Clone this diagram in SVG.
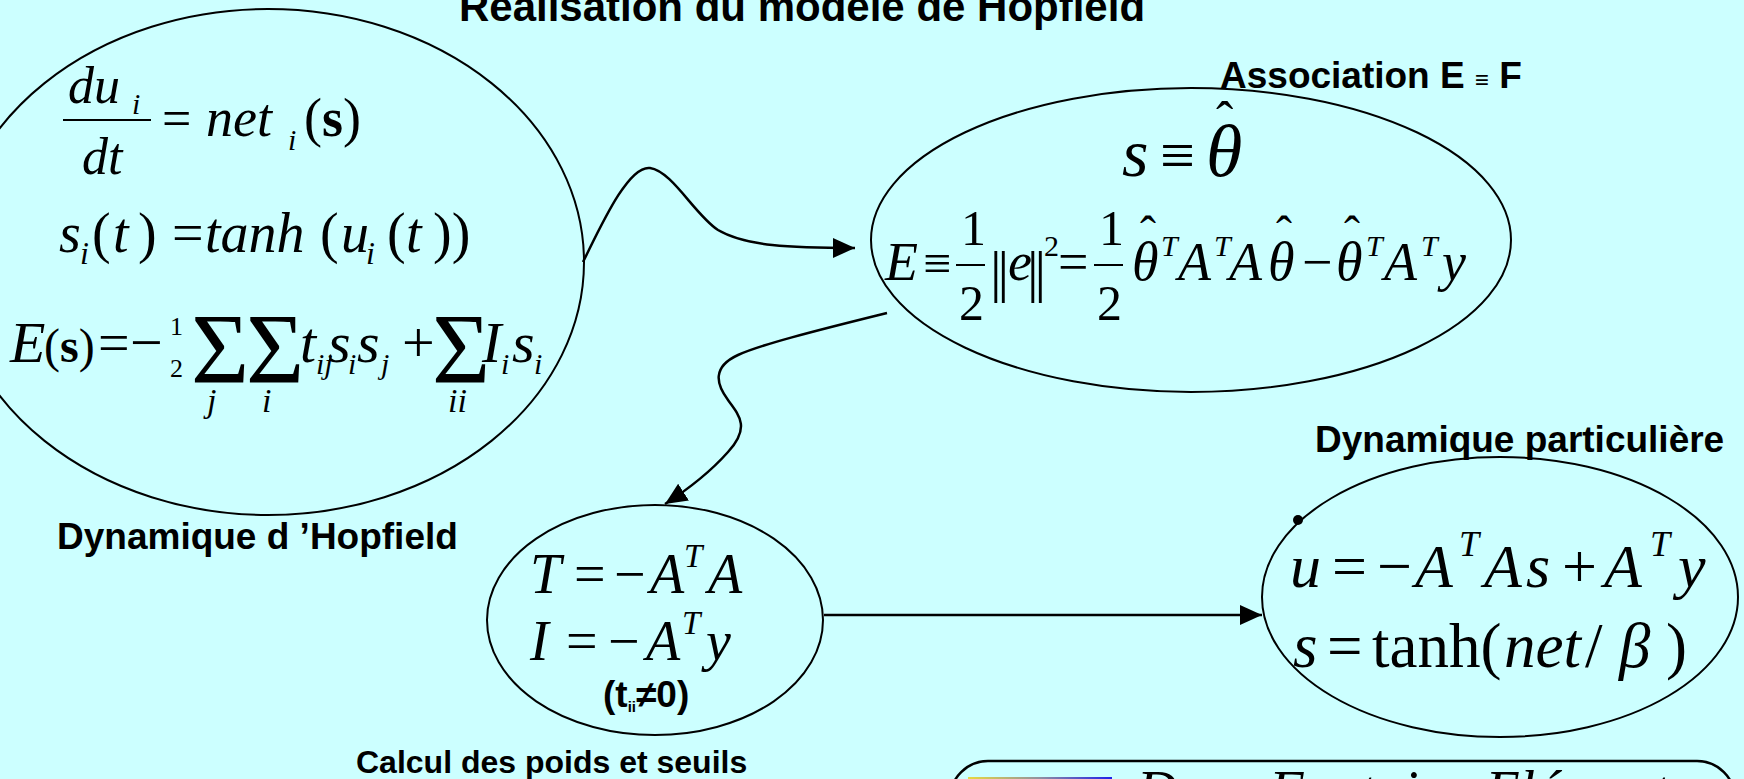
<svg xmlns="http://www.w3.org/2000/svg" width="1744" height="779" viewBox="0 0 1744 779">
<defs>
<style>
.lbl{font-family:"Liberation Sans",Arial,sans-serif;font-weight:bold;fill:#000}
.m{font-family:"Liberation Serif","Times New Roman",serif;font-style:italic;fill:#000}
.u{font-family:"Liberation Serif","Times New Roman",serif;font-style:normal;fill:#000}
.node{fill:none;stroke:#000;stroke-width:2}
.conn{fill:none;stroke:#000;stroke-width:2.5}
</style>
<marker id="ah" markerUnits="userSpaceOnUse" markerWidth="24" markerHeight="22" refX="22" refY="10" orient="auto">
<path d="M0,0 L22,10 L0,20 Z" fill="#000"/>
</marker>
<linearGradient id="bar" x1="0" y1="0" x2="1" y2="0">
<stop offset="0" stop-color="#e8d840"/>
<stop offset="0.5" stop-color="#9090a0"/>
<stop offset="1" stop-color="#2020e8"/>
</linearGradient>
</defs>
<rect x="0" y="0" width="1744" height="779" fill="#CCFFFF"/>

<text class="lbl" x="802" y="21" text-anchor="middle" font-size="42">Réalisation du modèle de Hopfield</text>

<g id="connectors">
<path class="conn" d="M583,262 C600,228 628,165 650,168 C672,171 695,215 718,230 C745,246 790,248 855,248" marker-end="url(#ah)"/>
<path class="conn" d="M887,313 C810,332 760,345 738,355 C712,367 716,384 728,400 C740,416 750,428 728,452 C712,470 690,488 665,504" marker-end="url(#ah)"/>
<path class="conn" d="M824,615 L1262,615" marker-end="url(#ah)"/>
</g>

<g id="hopfield">
<ellipse class="node" cx="268" cy="262" rx="316" ry="253"/>
<text class="m" font-size="52" x="68" y="103">du</text>
<text class="m" font-size="30" x="132" y="114">i</text>
<line x1="63" y1="120" x2="151" y2="120" stroke="#000" stroke-width="2"/>
<text class="m" font-size="52" x="82" y="174">dt</text>
<text class="u" font-size="52" x="162" y="136">=</text>
<text class="m" font-size="54" x="206" y="136">net</text>
<text class="m" font-size="30" x="288" y="150">i</text>
<text class="u" font-size="54" x="304" y="136">(<tspan font-weight="bold">s</tspan>)</text>

<text class="m" font-size="56" x="59" y="252">s</text>
<text class="m" font-size="32" x="80" y="264">i</text>
<text class="u" font-size="56" x="92" y="252">(</text>
<text class="m" font-size="56" x="113" y="252">t</text>
<text class="u" font-size="56" x="138" y="252">)</text>
<text class="u" font-size="56" x="172" y="252">=</text>
<text class="m" font-size="56" x="205" y="252">tanh</text>
<text class="u" font-size="56" x="320" y="252">(</text>
<text class="m" font-size="56" x="341" y="252">u</text>
<text class="m" font-size="32" x="366" y="264">i</text>
<text class="u" font-size="56" x="387" y="252">(</text>
<text class="m" font-size="56" x="406" y="252">t</text>
<text class="u" font-size="56" x="433" y="252">))</text>

<text class="m" font-size="58" x="10" y="362">E</text>
<text class="u" font-size="48" x="44" y="362">(<tspan font-weight="bold">s</tspan>)</text>
<text class="u" font-size="56" x="98" y="362">=</text>
<text class="u" font-size="58" x="130" y="362">−</text>
<text class="u" font-size="26" x="170" y="335">1</text>
<text class="u" font-size="26" x="170" y="377">2</text>
<text class="u" font-size="100" x="191" y="382">Σ</text>
<text class="u" font-size="100" x="246" y="382">Σ</text>
<text class="m" font-size="58" x="300" y="362">t</text>
<text class="m" font-size="30" x="316" y="374">ij</text>
<text class="m" font-size="58" x="328" y="362">s</text>
<text class="m" font-size="30" x="348" y="374">i</text>
<text class="m" font-size="58" x="357" y="362">s</text>
<text class="m" font-size="30" x="381" y="374">j</text>
<text class="u" font-size="58" x="402" y="362">+</text>
<text class="u" font-size="100" x="432" y="382">Σ</text>
<text class="m" font-size="58" x="482" y="362">I</text>
<text class="m" font-size="30" x="501" y="374">i</text>
<text class="m" font-size="58" x="512" y="362">s</text>
<text class="m" font-size="30" x="534" y="374">i</text>
<text class="m" font-size="34" x="207" y="412">j</text>
<text class="m" font-size="34" x="262" y="412">i</text>
<text class="m" font-size="34" x="448" y="412">ii</text>
<text class="lbl" font-size="37" x="57" y="549">Dynamique d ’Hopfield</text>
</g>

<g id="association">
<ellipse class="node" cx="1191" cy="240" rx="320" ry="152"/>
<text class="lbl" font-size="37" x="1220" y="88">Association E <tspan font-size="24">≡</tspan> F</text>
<text class="m" font-size="68" x="1122" y="176">s</text>
<text class="u" font-size="62" x="1160" y="176">≡</text>
<text class="m" font-size="74" x="1206" y="176">θ</text>
<text class="u" font-size="52" x="1216" y="138">ˆ</text>

<text class="m" font-size="54" x="885" y="280">E</text>
<text class="u" font-size="50" x="923" y="280">≡</text>
<text class="u" font-size="50" x="961" y="245">1</text>
<line x1="956" y1="265" x2="985" y2="265" stroke="#000" stroke-width="2"/>
<text class="u" font-size="50" x="959" y="320">2</text>
<text class="u" font-size="58" x="990" y="291" letter-spacing="-4">||</text>
<text class="m" font-size="54" x="1008" y="280">e</text>
<text class="u" font-size="58" x="1027" y="291" letter-spacing="-4">||</text>
<text class="u" font-size="30" x="1044" y="256">2</text>
<text class="u" font-size="54" x="1058" y="280">=</text>
<text class="u" font-size="50" x="1099" y="245">1</text>
<line x1="1094" y1="265" x2="1123" y2="265" stroke="#000" stroke-width="2"/>
<text class="u" font-size="50" x="1097" y="320">2</text>
<text class="m" font-size="54" x="1132" y="280">θ</text>
<text class="u" font-size="48" x="1140" y="250">ˆ</text>
<text class="m" font-size="30" x="1161" y="256">T</text>
<text class="m" font-size="54" x="1178" y="280">A</text>
<text class="m" font-size="30" x="1214" y="256">T</text>
<text class="m" font-size="54" x="1229" y="280">A</text>
<text class="m" font-size="54" x="1268" y="280">θ</text>
<text class="u" font-size="48" x="1276" y="250">ˆ</text>
<text class="u" font-size="54" x="1302" y="280">−</text>
<text class="m" font-size="54" x="1336" y="280">θ</text>
<text class="u" font-size="48" x="1344" y="250">ˆ</text>
<text class="m" font-size="30" x="1366" y="256">T</text>
<text class="m" font-size="54" x="1384" y="280">A</text>
<text class="m" font-size="30" x="1421" y="256">T</text>
<text class="m" font-size="54" x="1442" y="280">y</text>
</g>

<g id="calcul">
<ellipse class="node" cx="655" cy="620" rx="168" ry="115"/>
<text class="m" font-size="56" x="530" y="593">T</text>
<text class="u" font-size="56" x="574" y="593">=</text>
<text class="u" font-size="56" x="614" y="593">−</text>
<text class="m" font-size="56" x="650" y="593">A</text>
<text class="m" font-size="33" x="684" y="567">T</text>
<text class="m" font-size="56" x="708" y="593">A</text>
<text class="m" font-size="56" x="530" y="660">I</text>
<text class="u" font-size="56" x="566" y="660">=</text>
<text class="u" font-size="56" x="608" y="660">−</text>
<text class="m" font-size="56" x="646" y="660">A</text>
<text class="m" font-size="33" x="682" y="634">T</text>
<text class="m" font-size="56" x="706" y="660">y</text>
<text class="lbl" font-size="37" x="603" y="707">(t<tspan font-size="15" dy="5">ii</tspan><tspan dy="-5">≠0)</tspan></text>
<text class="lbl" font-size="32" x="356" y="773">Calcul des poids et seuils</text>
</g>

<g id="dynamique">
<ellipse class="node" cx="1500" cy="597" rx="238" ry="140"/>
<text class="lbl" font-size="37" x="1315" y="452">Dynamique particulière</text>
<circle cx="1298" cy="520" r="5" fill="#000"/>
<text class="m" font-size="62" x="1290" y="587">u</text>
<text class="u" font-size="62" x="1332" y="587">=</text>
<text class="u" font-size="62" x="1377" y="587">−</text>
<text class="m" font-size="62" x="1415" y="587">A</text>
<text class="m" font-size="36" x="1459" y="556">T</text>
<text class="m" font-size="62" x="1484" y="587">A</text>
<text class="m" font-size="62" x="1526" y="587">s</text>
<text class="u" font-size="62" x="1562" y="587">+</text>
<text class="m" font-size="62" x="1604" y="587">A</text>
<text class="m" font-size="36" x="1650" y="556">T</text>
<text class="m" font-size="62" x="1678" y="587">y</text>
<text class="m" font-size="63" x="1293" y="667">s</text>
<text class="u" font-size="63" x="1327" y="667">=</text>
<text class="u" font-size="63" x="1372" y="667">tanh(</text>
<text class="m" font-size="63" x="1504" y="667">net</text>
<text class="u" font-size="63" x="1585" y="667">/</text>
<text class="m" font-size="63" x="1619" y="667">β</text>
<text class="u" font-size="63" x="1666" y="667">)</text>
</g>

<g id="source">
<rect x="950" y="761" width="785" height="90" rx="38" ry="38" fill="none" stroke="#000" stroke-width="2.5"/>
<rect x="968" y="777" width="144" height="30" fill="url(#bar)"/>
<text class="m" font-size="56" x="1137" y="810">Dans Fontaine Eléments</text>
</g>
</svg>
